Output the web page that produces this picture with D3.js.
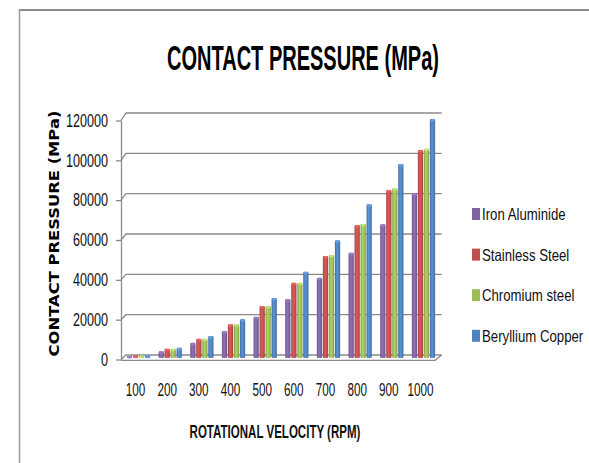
<!DOCTYPE html>
<html>
<head>
<meta charset="utf-8">
<script src="https://cdn.jsdelivr.net/npm/d3@7"></script>
<style>
  html, body { margin: 0; padding: 0; background: #fff; }
  svg { display: block; }
</style>
</head>
<body>
<svg id="chart" width="589" height="463"></svg>
<script>
// ---- data ----
const categories = ["100", "200", "300", "400", "500", "600", "700", "800", "900", "1000"];
const seriesNames = ["Iron Aluminide", "Stainless Steel", "Chromium steel", "Beryllium Copper"];
const ironAluminide   = [1000, 3300, 7600, 13400, 20600, 29400, 40000, 52400, 66600, 82000];
const stainlessSteel  = [1200, 4600, 9600, 16800, 25900, 37500, 50800, 66200, 83700, 103600];
const chromiumSteel   = [1200, 4600, 9600, 16800, 25900, 37500, 51300, 66700, 84500, 104200];
const berylliumCopper = [1400, 5100, 10900, 19300, 29900, 43000, 58600, 76500, 96600, 119000];
const yTicks = [0, 20000, 40000, 60000, 80000, 100000, 120000];

const chartTitle = "CONTACT PRESSURE (MPa)";
const yTitle = "CONTACT PRESSURE (MPa)";
const xTitle = "ROTATIONAL VELOCITY (RPM)";

// ---- styling ----
const seriesColors = ["#8064A2", "#C0504D", "#9BBB59", "#4F81BD"];
const sans = "'Liberation Sans', Arial, sans-serif";
const gridColor = "#8a8a8a";

const seriesValues = [ironAluminide, stainlessSteel, chromiumSteel, berylliumCopper];

const svg = d3.select("#chart");

// squeeze a text horizontally (condensed look) around its anchor point
function condense(sel, x, y, sx, rotate) {
  sel.attr("x", 0).attr("y", 0)
    .attr("transform", `translate(${x},${y})${rotate ? ` rotate(${rotate})` : ""} scale(${sx},1)`);
}
function condenseTo(sel, x, y, width, rotate) {
  const w = sel.node().getComputedTextLength();
  condense(sel, x, y, width / w, rotate);
}

// outer frame (top and left edges)
svg.append("line").attr("x1", 19).attr("x2", 589).attr("y1", 10).attr("y2", 10)
  .attr("stroke", "#8c8c8c").attr("stroke-width", 2);
svg.append("line").attr("x1", 19.5).attr("x2", 19.5).attr("y1", 9).attr("y2", 463)
  .attr("stroke", "#9a9a9a").attr("stroke-width", 1.5);

// ---- scales (front edge, back wall, and mid-depth bars of the 3D box) ----
const yMax = 120000;
const yFront = d3.scaleLinear().domain([0, yMax]).range([359.5, 120.5]);
const yBack  = d3.scaleLinear().domain([0, yMax]).range([355, 113]);
const yBar   = d3.scaleLinear().domain([0, yMax]).range([358, 117]);
const x0 = d3.scaleBand().domain(categories).range([122.7, 439.3]);
const x1 = d3.scaleBand().domain(seriesNames).range([4.2, 27.5]).paddingInner(0.12);

const frontX = 121, backX = 126, backRightX = 441.7, floorFrontRightX = 435;

// gradients giving each column a rounded, lit look
const defs = svg.append("defs");
seriesColors.forEach((c, i) => {
  const g = defs.append("linearGradient").attr("id", "grad" + i)
    .attr("x1", "0%").attr("x2", "100%").attr("y1", "0%").attr("y2", "0%");
  const base = d3.color(c);
  g.append("stop").attr("offset", "0%").attr("stop-color", base.darker(0.45));
  g.append("stop").attr("offset", "40%").attr("stop-color", base.brighter(0.35));
  g.append("stop").attr("offset", "75%").attr("stop-color", base);
  g.append("stop").attr("offset", "100%").attr("stop-color", base.darker(0.5));
});

// back-wall gridlines with their left-wall diagonals
const grid = svg.append("g").attr("fill", "none").attr("stroke", gridColor).attr("stroke-width", 1.3);
grid.selectAll("path.grid").data(yTicks).join("path").attr("class", "grid")
  .attr("d", t => `M${frontX},${yFront(t)}L${backX},${yBack(t)}L${backRightX},${yBack(t)}`);
// floor front edge
grid.append("path")
  .attr("d", `M${frontX},${yFront(0) + 0.8}L${floorFrontRightX},${yFront(0) + 0.8}L${backRightX},${yBack(0)}`);

// ---- columns ----
const barGroups = svg.append("g").selectAll("g.series")
  .data(seriesNames.map((name, si) => ({ name, si, values: seriesValues[si] })))
  .join("g").attr("class", "series");

barGroups.selectAll("rect")
  .data(d => d.values.map((v, i) => ({ v, cat: categories[i], name: d.name, si: d.si })))
  .join("rect")
  .attr("x", d => x0(d.cat) + x1(d.name))
  .attr("y", d => yBar(d.v))
  .attr("width", x1.bandwidth())
  .attr("height", d => yBar(0) - yBar(d.v))
  .attr("rx", 1.2)
  .attr("fill", d => `url(#grad${d.si})`);

barGroups.selectAll("ellipse")
  .data(d => d.values.map((v, i) => ({ v, cat: categories[i], name: d.name, si: d.si })))
  .join("ellipse")
  .attr("cx", d => x0(d.cat) + x1(d.name) + x1.bandwidth() / 2)
  .attr("cy", d => yBar(d.v) + 1.2)
  .attr("rx", x1.bandwidth() / 2 - 0.3)
  .attr("ry", 1.2)
  .attr("fill", d => d3.color(seriesColors[d.si]).brighter(0.6));

// ---- axes ----
const yAxis = svg.append("g").attr("transform", `translate(${frontX},0)`)
  .call(d3.axisLeft(yFront).tickValues(yTicks).tickSize(5).tickSizeOuter(0)
    .tickPadding(8).tickFormat(d3.format("d")));
yAxis.select(".domain").attr("stroke", gridColor).attr("stroke-width", 1.3);
yAxis.selectAll(".tick line").attr("stroke", gridColor).attr("stroke-width", 1.3);
yAxis.selectAll(".tick text")
  .attr("font-family", sans).attr("font-size", 18).attr("fill", "#111")
  .attr("textLength", function () { return this.textContent.length * 7; })
  .attr("lengthAdjust", "spacingAndGlyphs");

const xAxis = svg.append("g").attr("transform", "translate(-3,383)")
  .call(d3.axisBottom(x0).tickSize(0).tickPadding(0));
xAxis.select(".domain").remove();
xAxis.selectAll(".tick text")
  .attr("font-family", sans).attr("font-size", 18).attr("fill", "#111")
  .attr("textLength", function () { return this.textContent.length * 6.5; })
  .attr("lengthAdjust", "spacingAndGlyphs");

// ---- titles ----
const title = svg.append("text").attr("text-anchor", "middle")
  .attr("font-family", sans).attr("font-weight", "bold").attr("font-size", 35)
  .attr("fill", "#000").text(chartTitle);
condenseTo(title, 303, 70, 272);

const yTitleText = svg.append("text").attr("text-anchor", "middle")
  .attr("font-family", "'DejaVu Sans', Verdana, sans-serif").attr("font-weight", "bold")
  .attr("font-size", 14.5).attr("fill", "#000").text(yTitle);
condenseTo(yTitleText, 59, 233.5, 246, -90);

const xTitleText = svg.append("text").attr("text-anchor", "middle")
  .attr("font-family", sans).attr("font-weight", "bold").attr("font-size", 18)
  .attr("fill", "#111").text(xTitle);
condenseTo(xTitleText, 275, 438, 171);

// ---- legend ----
const legend = svg.append("g").selectAll("g.item").data(seriesNames).join("g")
  .attr("class", "item")
  .attr("transform", (d, i) => `translate(472,${208 + i * 40.6})`);
legend.append("rect").attr("width", 8).attr("height", 12)
  .attr("fill", (d, i) => seriesColors[i]);
legend.append("text")
  .attr("font-family", sans).attr("font-size", 16.5).attr("fill", "#111")
  .text(d => d)
  .each(function () { condense(d3.select(this), 10, 12, 0.8); });
</script>
</body>
</html>
